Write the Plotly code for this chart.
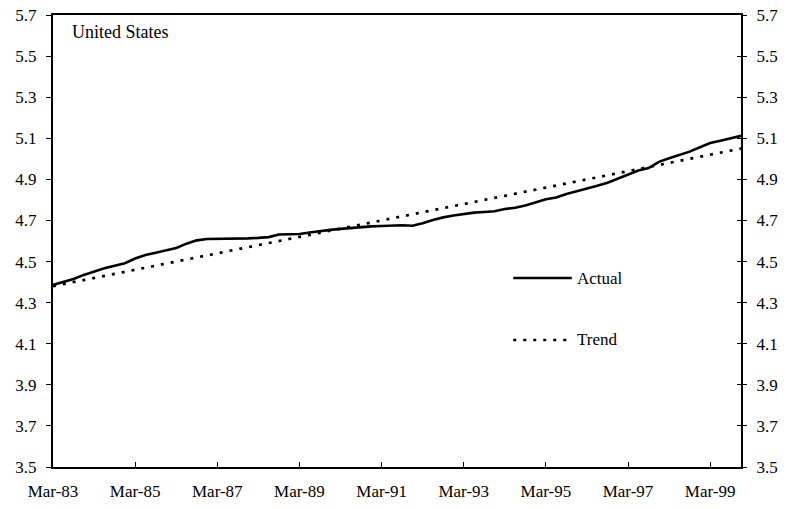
import plotly.graph_objects as go

# Quarterly observations, Mar-83 through Dec-99 (log scale index)
actual = [
    4.386, 4.400, 4.415, 4.435, 4.452, 4.467, 4.480, 4.492,
    4.515, 4.532, 4.543, 4.554, 4.566, 4.587, 4.603, 4.610,
    4.610, 4.610, 4.610, 4.613, 4.615, 4.619, 4.632, 4.634,
    4.634, 4.641, 4.649, 4.654, 4.659, 4.664, 4.668, 4.671,
    4.673, 4.676, 4.677, 4.674, 4.686, 4.702, 4.715, 4.724,
    4.732, 4.738, 4.741, 4.745, 4.756, 4.762, 4.773, 4.788,
    4.803, 4.812, 4.829, 4.842, 4.854, 4.869, 4.884, 4.904,
    4.926, 4.943, 4.955, 4.985, 5.003, 5.018, 5.035, 5.056,
    5.077, 5.088, 5.100, 5.112,
]

# Linear trend, given by its end points
trend_quarters = ["Mar-83", "Dec-99"]
trend_values = [4.38, 5.05]

months = ["Mar", "Jun", "Sep", "Dec"]
quarters = [f"{months[i % 4]}-{83 + i // 4:02d}" for i in range(len(actual))]
tick_labels = ["Mar-83", "Mar-85", "Mar-87", "Mar-89", "Mar-91",
               "Mar-93", "Mar-95", "Mar-97", "Mar-99"]
y_ticks = [3.5, 3.7, 3.9, 4.1, 4.3, 4.5, 4.7, 4.9, 5.1, 5.3, 5.5, 5.7]
y_range = [3.5, 5.7]

FONT = "Liberation Serif"
ACTUAL_LINE = dict(color="black", width=2.6)
TREND_LINE = dict(color="black", width=2.7, dash="3px,7px")

fig = go.Figure()
fig.add_trace(go.Scatter(
    x=quarters, y=actual, mode="lines", name="Actual",
    line=ACTUAL_LINE, showlegend=False,
))
fig.add_trace(go.Scatter(
    x=trend_quarters, y=trend_values, mode="lines", name="Trend",
    line=TREND_LINE, showlegend=False,
))
# Transparent copies so the right-hand axes (outer and inner ticks) are drawn
for axis in ("y2", "y3"):
    fig.add_trace(go.Scatter(
        x=trend_quarters, y=trend_values, mode="lines", yaxis=axis,
        line=dict(width=0, color="rgba(0,0,0,0)"), hoverinfo="skip",
        showlegend=False,
    ))

common_y = dict(range=y_range, tickvals=y_ticks,
                ticktext=[f"{v:.1f}" for v in y_ticks],
                showgrid=False, zeroline=False, tickcolor="black",
                tickwidth=1, tickfont=dict(family=FONT, size=17),
                automargin=False)

fig.update_layout(
    width=791, height=509,
    margin=dict(l=53, r=50, t=15, b=42),
    paper_bgcolor="white", plot_bgcolor="white",
    font=dict(family=FONT, size=17, color="black"),
    xaxis=dict(
        type="category", categoryorder="array", categoryarray=quarters,
        range=[0, len(quarters) - 1],
        tickvals=tick_labels, ticktext=tick_labels,
        ticks="inside", ticklen=5, tickwidth=1, tickcolor="black",
        showline=True, linecolor="black", linewidth=2, mirror=True,
        showgrid=False, zeroline=False, ticklabelstandoff=8,
        tickfont=dict(family=FONT, size=17), automargin=False,
    ),
    yaxis=dict(
        **common_y, side="left", ticks="outside", ticklen=5,
        showline=True, linecolor="black", linewidth=2,
        ticklabelstandoff=6,
    ),
    yaxis2=dict(
        **common_y, overlaying="y", side="right", ticks="outside",
        ticklen=4, showline=True, linecolor="black", linewidth=2,
        ticklabelstandoff=6,
    ),
    yaxis3=dict(
        **common_y, overlaying="y", side="right", ticks="inside",
        ticklen=4, showline=False, showticklabels=False,
    ),
)

# Series title
fig.add_annotation(
    text="United States", xref="paper", yref="paper", x=0.025, y=0.962,
    xanchor="left", yanchor="middle", showarrow=False,
    font=dict(family=FONT, size=18),
)

# Legend keys
legend_items = [("Actual", 0.418, ACTUAL_LINE), ("Trend", 0.281, TREND_LINE)]
for label, ypos, line_style in legend_items:
    fig.add_shape(type="line", xref="paper", yref="paper",
                  x0=0.669, x1=0.754, y0=ypos, y1=ypos, line=line_style)
    fig.add_annotation(text=label, xref="paper", yref="paper",
                       x=0.758, y=ypos, xanchor="left", yanchor="middle",
                       showarrow=False, font=dict(family=FONT, size=17))

fig.write_html("out.html")
